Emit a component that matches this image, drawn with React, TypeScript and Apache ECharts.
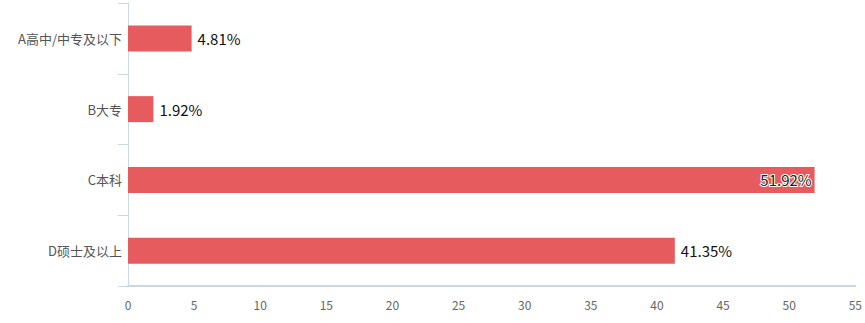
import React, { useEffect, useRef } from "react";
import * as echarts from "echarts";

const categories = ["A高中/中专及以下", "B大专", "C本科", "D硕士及以上"];
const values = [4.81, 1.92, 51.92, 41.35];
const insideLabelIndex = 2;

export default function App() {
  const ref = useRef<HTMLDivElement>(null);
  useEffect(() => {
    if (!ref.current) return;
    const chart = echarts.init(ref.current, undefined, { renderer: "svg" });
    const font = '"Noto Sans CJK SC", "Noto Sans", sans-serif';
    chart.setOption({
      animation: false,
      textStyle: { fontFamily: font },
      grid: { left: 128, right: 8, top: 3, bottom: 37, containLabel: false },
      xAxis: {
        type: "value",
        min: 0,
        max: 55,
        interval: 5,
        splitLine: { show: false },
        axisLine: { show: true, lineStyle: { color: "#c9d7e8", width: 2 } },
        axisTick: { show: false },
        axisLabel: { color: "#666", fontSize: 12, margin: 12, fontFamily: font },
      },
      yAxis: {
        type: "category",
        inverse: true,
        data: categories,
        axisLine: { show: true, lineStyle: { color: "#c9d7e8", width: 1 } },
        axisTick: { show: true, length: 10, lineStyle: { color: "#c9d7e8" } },
        axisLabel: { color: "#555", fontSize: 13, margin: 6, fontFamily: font },
      },
      series: [
        {
          type: "bar",
          barWidth: 26,
          itemStyle: { color: "#e65b5e" },
          data: values.map((v, i) => ({
            value: v,
            label:
              i === insideLabelIndex
                ? {
                    show: true,
                    position: "insideRight",
                    color: "#222",
                    fontSize: 15,
                    fontFamily: font,
                    textBorderColor: "#fff",
                    textBorderWidth: 2,
                    distance: 3,
                  }
                : undefined,
          })),
          label: {
            show: true,
            position: "right",
            distance: 6,
            color: "#111",
            fontSize: 15,
            fontFamily: font,
            formatter: (p: any) => p.value + "%",
          },
        },
      ],
    });
    return () => chart.dispose();
  }, []);
  return (
    <div
      ref={ref}
      style={{ position: "absolute", left: 0, top: 0, width: 865, height: 323, background: "#fff" }}
    />
  );
}
